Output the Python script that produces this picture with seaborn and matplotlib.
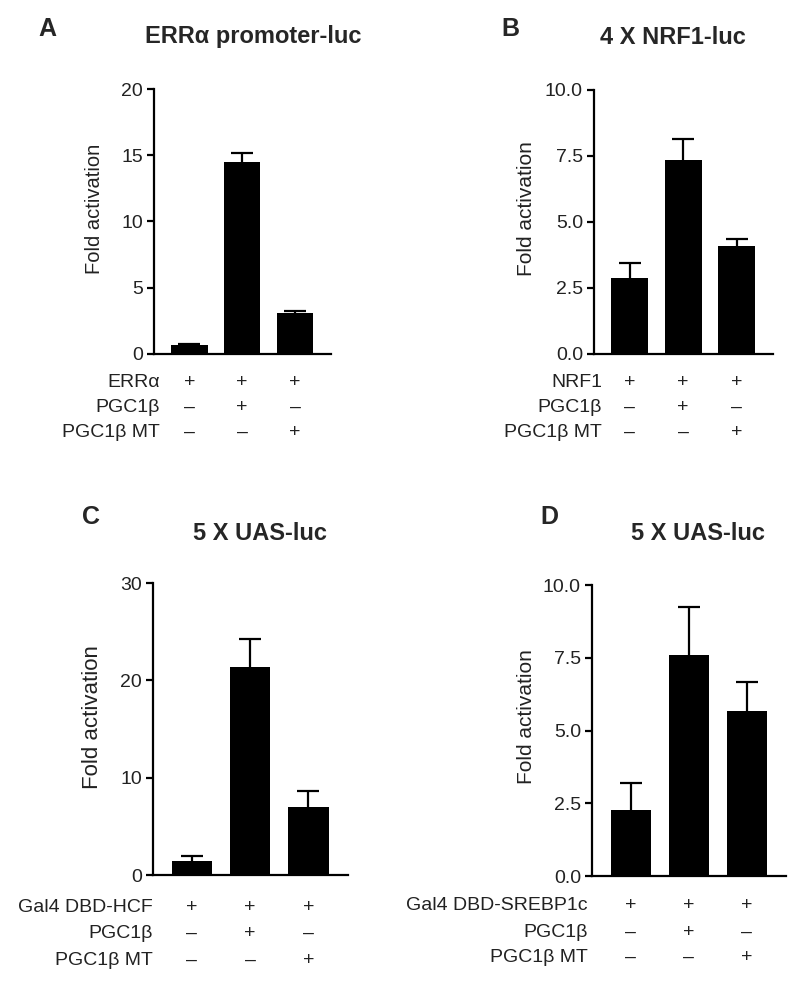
import numpy as np
import pandas as pd
import matplotlib
matplotlib.use("Agg")
import matplotlib.pyplot as plt
import matplotlib.transforms as mtransforms
import seaborn as sns

# Valores (media y error superior)
groups = ["1", "2", "3"]

mean_a = [0.68, 14.5, 3.1]
err_a = [0.07, 0.7, 0.15]
mean_b = [2.88, 7.35, 4.1]
err_b = [0.57, 0.79, 0.26]
mean_c = [1.44, 21.4, 6.98]
err_c = [0.5, 2.8, 1.6]
mean_d = [2.27, 7.6, 5.67]
err_d = [0.93, 1.65, 1.0]

rows_a = ["ERR\u03b1", "PGC1\u03b2", "PGC1\u03b2 MT"]
rows_b = ["NRF1", "PGC1\u03b2", "PGC1\u03b2 MT"]
rows_c = ["Gal4 DBD-HCF", "PGC1\u03b2", "PGC1\u03b2 MT"]
rows_d = ["Gal4 DBD-SREBP1c", "PGC1\u03b2", "PGC1\u03b2 MT"]
signs = [["+", "+", "+"], ["\u2013", "+", "\u2013"], ["\u2013", "\u2013", "+"]]

titles = ["ERR\u03b1 promoter-luc", "4 X NRF1-luc", "5 X UAS-luc", "5 X UAS-luc"]
letters = ["A", "B", "C", "D"]
yticks_a = [0, 5, 10, 15, 20]
yticks_b = [0, 2.5, 5.0, 7.5, 10.0]
yticks_c = [0, 10, 20, 30]
yticks_d = [0, 2.5, 5.0, 7.5, 10.0]

sns.set_theme(style="ticks")
plt.rcParams['font.family'] = ['Liberation Sans', 'DejaVu Sans']

W, H = 800, 988
fig = plt.figure(figsize=(W / 100, H / 100), dpi=100)

# caja de cada panel en píxeles: izquierda, derecha, arriba, abajo
panels = [
    dict(box=(154, 331, 89, 354), mean=mean_a, err=err_a, rows=rows_a, yt=yticks_a, fmt="{:.0f}",
         rowy=(382, 407, 432), rowx=160, ylab=(94, 209, 14.5), title=(253, 37), letter=(47, 29)),
    dict(box=(594, 773, 90, 354), mean=mean_b, err=err_b, rows=rows_b, yt=yticks_b, fmt="{:.1f}",
         rowy=(382, 407, 432), rowx=602, ylab=(527, 209, 15), title=(673, 37), letter=(510, 29)),
    dict(box=(153, 348, 583, 875), mean=mean_c, err=err_c, rows=rows_c, yt=yticks_c, fmt="{:.0f}",
         rowy=(907, 933, 960), rowx=153, ylab=(93, 717, 16), title=(260, 533), letter=(91, 517)),
    dict(box=(592, 786, 585, 876), mean=mean_d, err=err_d, rows=rows_d, yt=yticks_d, fmt="{:.1f}",
         rowy=(905, 932, 957), rowx=588, ylab=(527, 717, 15), title=(698, 533), letter=(549, 517)),
]

for i, p in enumerate(panels):
    l, r, t, b = p["box"]
    ax = fig.add_axes([l / W, 1 - b / H, (r - l) / W, (b - t) / H])
    df = pd.DataFrame({"grupo": groups, "valor": p["mean"]})
    # barra de error simétrica: la mitad inferior queda oculta dentro de la barra negra
    ax.errorbar(range(3), p["mean"], yerr=p["err"], fmt="none",
                ecolor="black", elinewidth=1.6, capsize=8, capthick=1.6, zorder=1)
    sns.barplot(data=df, x="grupo", y="valor", color="black", width=0.69,
                errorbar=None, linewidth=0, saturation=1, ax=ax, zorder=2)
    ax.set_xlim(-0.67, 2.68)
    ax.set_ylim(0, p["yt"][-1])
    ax.set_yticks(p["yt"])
    ax.set_yticklabels([p["fmt"].format(v) for v in p["yt"]], fontsize=14, color="#222222")
    ax.set_xticks([])
    ax.set_xlabel("")
    ax.set_ylabel("")
    sns.despine(ax=ax)
    for s in ["left", "bottom"]:
        ax.spines[s].set_linewidth(1.6)
        ax.spines[s].set_color("black")
    ax.tick_params(axis="y", length=5, width=1.6, pad=3, color="black")

    # etiquetas + / – bajo cada barra
    tr = mtransforms.blended_transform_factory(ax.transData, fig.transFigure)
    for k, name in enumerate(p["rows"]):
        yy = 1 - p["rowy"][k] / H
        fig.text(p["rowx"] / W, yy, name, ha="right", va="center", fontsize=14, color="#222222")
        for j in range(3):
            ax.text(j, yy, signs[k][j], transform=tr, ha="center", va="center",
                    fontsize=14, color="#222222")

    x, y, fs = p["ylab"]
    fig.text(x / W, 1 - y / H, "Fold activation", rotation=90, ha="center", va="center",
             fontsize=fs, color="#222222")
    fig.text(p["title"][0] / W, 1 - p["title"][1] / H, titles[i], ha="center", va="center",
             fontsize=17, fontweight="bold")
    fig.text(p["letter"][0] / W, 1 - p["letter"][1] / H, letters[i], ha="center", va="center",
             fontsize=18, fontweight="bold")

fig.savefig("out.png", dpi=100, facecolor="white")
